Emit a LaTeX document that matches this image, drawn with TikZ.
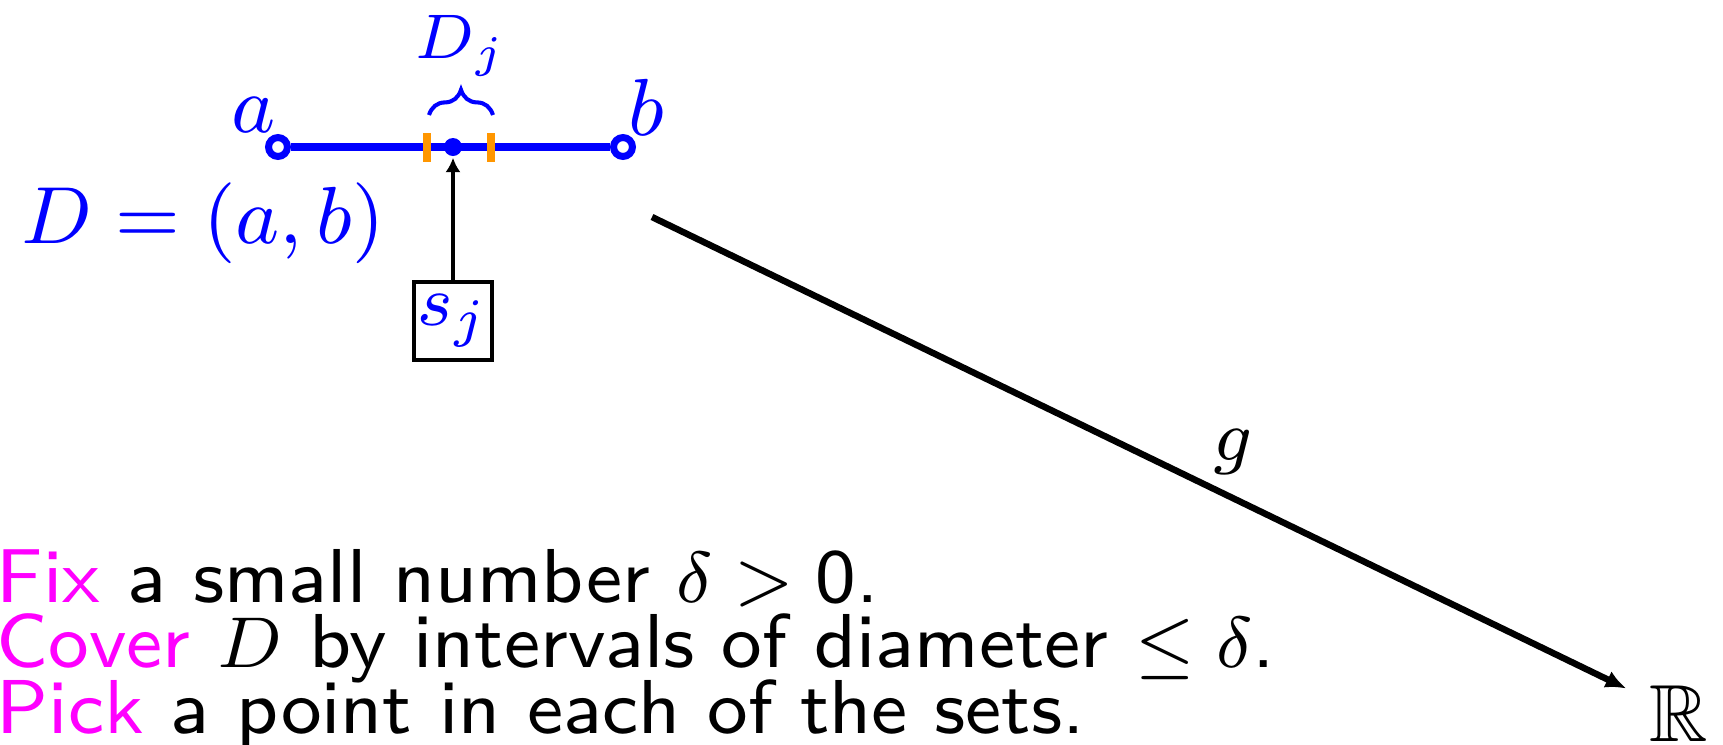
\documentclass[tikz,border=0pt]{standalone}
\usepackage{fontspec}
\usepackage{amssymb}
\usetikzlibrary{arrows.meta,decorations.pathreplacing}
\definecolor{orangetrait}{RGB}{255,150,0}
\definecolor{magentavif}{RGB}{255,0,255}

\begin{document}
\begin{tikzpicture}[x=0.1111pt, y=-0.1111pt,
    segment/.style={draw=blue, line width=0.78pt},
    bout/.style={circle, draw=blue, fill=white, line width=0.78pt, inner sep=0pt, minimum size=2.1pt},
    bleu/.style={text=blue, inner sep=0pt, font=\fontsize{9}{11}\selectfont},
    texte/.style={anchor=base west, inner sep=0pt, font=\fontsize{8.49}{10}\selectfont\sffamily}
]
    \useasboundingbox (0,0) rectangle (1723,744);

    % L'intervalle ouvert D = (a,b)
    \node[bout] (a) at (278,147) {};
    \node[bout] (b) at (623,147) {};
    \draw[segment] (a) -- (b);
    \node[bleu] (la) at (254,115) {$a$};
    \node[bleu] (lb) at (646,107) {$b$};
    \node[bleu, font=\fontsize{9.5}{11}\selectfont] (Deq) at (203,223) {$D=(a,b)$};

    % Le petit intervalle D_j et son point s_j
    \foreach \x in {427,491}
        \draw[orangetrait, line width=0.78pt] (\x,133) -- (\x,162);
    \node[circle, fill=blue, inner sep=0pt, minimum size=2pt] (sdot) at (453,147) {};
    \draw[blue, line width=0.45pt, decorate, decoration={brace, amplitude=2.8pt}] (429,115) -- (493,115);
    \node[bleu, anchor=base, font=\fontsize{7.5}{9}\selectfont] (Dj) at (461,58) {$D_j$};
    \node[draw, line width=0.45pt, minimum width=8.7pt, minimum height=8.7pt, bleu, font=\fontsize{8.5}{10}\selectfont] (sj) at (453,321) {$s_j$};
    \draw[line width=0.55pt, -{Latex[length=1.6pt,width=1.7pt]}] (sj) -- (sdot);

    % La fonction g vers R
    \coordinate (gstart) at (652,217);
    \node[inner sep=2.4pt, font=\fontsize{9}{11}\selectfont] (R) at (1679,714) {$\mathbb{R}$};
    \draw[line width=0.72pt, -{Latex[length=2.3pt,width=2pt]}] (gstart) -- (R);
    \node[inner sep=0pt, font=\fontsize{8}{10}\selectfont] (g) at (1233,452) {$g$};

    % Le texte
    \node[texte] (fix) at (-5,602) {\textcolor{magentavif}{Fix} a small number $\delta > \mbox{0}$.};
    \node[texte] (cover) at (-5,667) {\textcolor{magentavif}{Cover} $D$ by intervals of diameter $\le \delta$.};
    \node[texte] (pick) at (-5,733) {\textcolor{magentavif}{Pick} a point in each of the sets.};
\end{tikzpicture}
\end{document}
